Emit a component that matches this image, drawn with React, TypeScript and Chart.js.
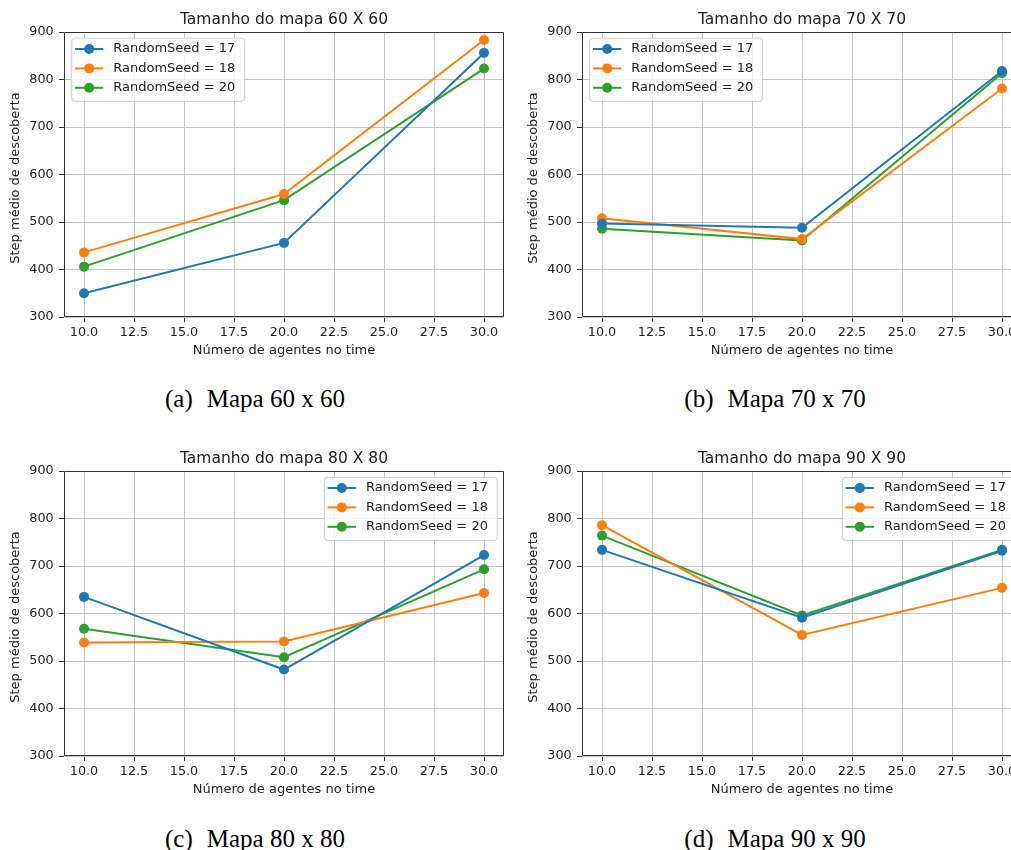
import React, { useEffect, useRef } from 'react';
import { Chart, registerables } from 'chart.js';

Chart.register(...registerables);

// ---------- data ----------
const agentCounts = [10, 20, 30];
const seedLabels = ['RandomSeed = 17', 'RandomSeed = 18', 'RandomSeed = 20'];
const seedColors = ['#1f77b4', '#ff7f0e', '#2ca02c'];

const map60Seed17 = [350, 456, 856];
const map60Seed18 = [436, 559, 883];
const map60Seed20 = [406, 546, 823];

const map70Seed17 = [497, 488, 818];
const map70Seed18 = [508, 464, 781];
const map70Seed20 = [486, 461, 813];

const map80Seed17 = [635, 482, 723];
const map80Seed18 = [539, 541, 643];
const map80Seed20 = [568, 508, 693];

const map90Seed17 = [734, 591, 732];
const map90Seed18 = [786, 555, 654];
const map90Seed20 = [764, 596, 734];

const xTickValues = [10, 12.5, 15, 17.5, 20, 22.5, 25, 27.5, 30];
const yTickValues = [300, 400, 500, 600, 700, 800, 900];

const panelTitles = ['Tamanho do mapa 60 X 60', 'Tamanho do mapa 70 X 70', 'Tamanho do mapa 80 X 80', 'Tamanho do mapa 90 X 90'];
const panelLetters = ['(a)', '(b)', '(c)', '(d)'];
const panelCaptions = ['Mapa 60 x 60', 'Mapa 70 x 70', 'Mapa 80 x 80', 'Mapa 90 x 90'];
const xAxisTitle = 'Número de agentes no time';
const yAxisTitle = 'Step médio de descoberta';

// ---------- layout ----------
const FONT = "'DejaVu Sans', 'Noto Sans', sans-serif";
const TEXT = '#222222';
const CW = 510;
const CH = 370;

type PanelCfg = {
  title: string;
  letter: string;
  caption: string;
  series: number[][];
  legendSide: 'left' | 'right';
  left: number;
  top: number;
  captionX: number;
  captionTop: number;
};

const panels: PanelCfg[] = [
  { title: panelTitles[0], letter: panelLetters[0], caption: panelCaptions[0], series: [map60Seed17, map60Seed18, map60Seed20], legendSide: 'left', left: 0, top: 0, captionX: 255, captionTop: 386 },
  { title: panelTitles[1], letter: panelLetters[1], caption: panelCaptions[1], series: [map70Seed17, map70Seed18, map70Seed20], legendSide: 'left', left: 518, top: 0, captionX: 775, captionTop: 386 },
  { title: panelTitles[2], letter: panelLetters[2], caption: panelCaptions[2], series: [map80Seed17, map80Seed18, map80Seed20], legendSide: 'right', left: 0, top: 439, captionX: 255, captionTop: 826 },
  { title: panelTitles[3], letter: panelLetters[3], caption: panelCaptions[3], series: [map90Seed17, map90Seed18, map90Seed20], legendSide: 'right', left: 518, top: 439, captionX: 775, captionTop: 826 },
];

const decorPlugin = {
  id: 'decor',
  afterDatasetsDraw(chart: any) {
    const { ctx, chartArea: a } = chart;
    ctx.save();
    ctx.strokeStyle = '#333333';
    ctx.lineWidth = 1;
    ctx.beginPath();
    ctx.rect(a.left + 0.5, a.top + 0.5, a.right - a.left - 1, a.bottom - a.top - 1);
    ctx.stroke();
    ctx.restore();
  },
  afterDraw(chart: any) {
    const { ctx, chartArea: a } = chart;
    const cfg = chart.options.plugins.decor || {};
    ctx.save();
    // title
    ctx.font = `15.5px ${FONT}`;
    ctx.fillStyle = TEXT;
    ctx.textAlign = 'center';
    ctx.textBaseline = 'alphabetic';
    ctx.fillText(cfg.title || '', (a.left + a.right) / 2, a.top - 8.5);

    // y axis title
    ctx.save();
    ctx.translate(16, (a.top + a.bottom) / 2 + 3.5);
    ctx.rotate(-Math.PI / 2);
    ctx.font = `13px ${FONT}`;
    ctx.textAlign = 'center';
    ctx.textBaseline = 'middle';
    ctx.fillStyle = TEXT;
    ctx.fillText(cfg.yTitle || '', 0, 0);
    ctx.restore();

    // legend
    const bw = 173;
    const bh = 63;
    const bx = cfg.legendSide === 'right' ? a.right - 6.7 - bw : a.left + 7.7;
    const by = a.top + 6.3;
    const r = 3;
    ctx.beginPath();
    ctx.moveTo(bx + r, by);
    ctx.lineTo(bx + bw - r, by);
    ctx.arcTo(bx + bw, by, bx + bw, by + r, r);
    ctx.lineTo(bx + bw, by + bh - r);
    ctx.arcTo(bx + bw, by + bh, bx + bw - r, by + bh, r);
    ctx.lineTo(bx + r, by + bh);
    ctx.arcTo(bx, by + bh, bx, by + bh - r, r);
    ctx.lineTo(bx, by + r);
    ctx.arcTo(bx, by, bx + r, by, r);
    ctx.closePath();
    ctx.fillStyle = 'rgba(255,255,255,0.8)';
    ctx.fill();
    ctx.strokeStyle = '#cccccc';
    ctx.lineWidth = 1;
    ctx.stroke();

    chart.data.datasets.forEach((ds: any, i: number) => {
      const cy = by + 10.7 + i * 19.4;
      ctx.strokeStyle = ds.borderColor;
      ctx.lineWidth = 2;
      ctx.beginPath();
      ctx.moveTo(bx + 3.3, cy);
      ctx.lineTo(bx + 31.6, cy);
      ctx.stroke();
      ctx.fillStyle = ds.borderColor;
      ctx.beginPath();
      ctx.arc(bx + 17.5, cy, 5, 0, Math.PI * 2);
      ctx.fill();
      ctx.fillStyle = TEXT;
      ctx.font = `13px ${FONT}`;
      ctx.textAlign = 'left';
      ctx.textBaseline = 'middle';
      ctx.fillText(ds.label, bx + 41.6, cy);
    });
    ctx.restore();
  },
};

function PanelChart({ cfg }: { cfg: PanelCfg }) {
  const ref = useRef<HTMLCanvasElement | null>(null);
  useEffect(() => {
    if (!ref.current) return;
    const gridCommon = {
      color: '#c4c4c4',
      lineWidth: 1,
      drawTicks: true,
      tickLength: 5,
      tickColor: '#333333',
      tickWidth: 1,
    };
    const chart = new Chart(ref.current, {
      type: 'line',
      data: {
        datasets: cfg.series.map((vals, i) => ({
          label: seedLabels[i],
          data: agentCounts.map((x, j) => ({ x, y: vals[j] })),
          borderColor: seedColors[i],
          backgroundColor: seedColors[i],
          pointBackgroundColor: seedColors[i],
          pointBorderWidth: 0,
          pointRadius: 5,
          pointHoverRadius: 5,
          borderWidth: 2,
          tension: 0,
          fill: false,
        })),
      },
      options: {
        animation: false,
        responsive: false,
        devicePixelRatio: 1,
        events: [],
        layout: { padding: { left: 0, right: 6, top: 32, bottom: 0 } },
        plugins: {
          legend: { display: false },
          title: { display: false },
          tooltip: { enabled: false },
          decor: { title: cfg.title, legendSide: cfg.legendSide, yTitle: yAxisTitle },
        } as any,
        scales: {
          x: {
            type: 'linear',
            min: 9,
            max: 31,
            afterBuildTicks: (s: any) => {
              s.ticks = xTickValues.map((v) => ({ value: v }));
            },
            afterFit: (s: any) => {
              s.height = 53;
            },
            ticks: {
              callback: (v: any) => Number(v).toFixed(1),
              font: { family: FONT, size: 12.8 },
              color: TEXT,
              padding: 3.3,
              maxRotation: 0,
              autoSkip: false,
            },
            grid: gridCommon,
            border: { display: false },
            title: {
              display: true,
              text: xAxisTitle,
              font: { family: FONT, size: 13 },
              color: TEXT,
              padding: { top: 0, bottom: 11.5 },
            },
          },
          y: {
            type: 'linear',
            min: 300,
            max: 900,
            afterBuildTicks: (s: any) => {
              s.ticks = yTickValues.map((v) => ({ value: v }));
            },
            afterFit: (s: any) => {
              s.width = 64;
            },
            ticks: {
              font: { family: FONT, size: 12.8 },
              color: TEXT,
              padding: 5.3,
            },
            grid: gridCommon,
            border: { display: false },
            title: { display: false },
          },
        },
      } as any,
      plugins: [decorPlugin as any],
    });
    return () => chart.destroy();
  }, [cfg]);
  return (
    <canvas
      ref={ref}
      width={CW}
      height={CH}
      style={{ position: 'absolute', left: cfg.left, top: cfg.top, width: CW, height: CH }}
    />
  );
}

export default function App() {
  return (
    <div
      style={{
        position: 'absolute',
        left: 0,
        top: 0,
        width: 1011,
        height: 850,
        overflow: 'hidden',
        background: '#ffffff',
      }}
    >
      {panels.map((p, i) => (
        <PanelChart key={i} cfg={p} />
      ))}
      {panels.map((p, i) => (
        <div
          key={'c' + i}
          style={{
            position: 'absolute',
            left: p.captionX - 150,
            top: p.captionTop,
            width: 300,
            textAlign: 'center',
            fontFamily: "'Liberation Serif', 'Times New Roman', serif",
            fontSize: 25,
            lineHeight: '25px',
            color: '#000',
            whiteSpace: 'pre',
          }}
        >
          <span>{p.letter}</span>
          <span style={{ marginLeft: 14 }}>{p.caption}</span>
        </div>
      ))}
    </div>
  );
}
